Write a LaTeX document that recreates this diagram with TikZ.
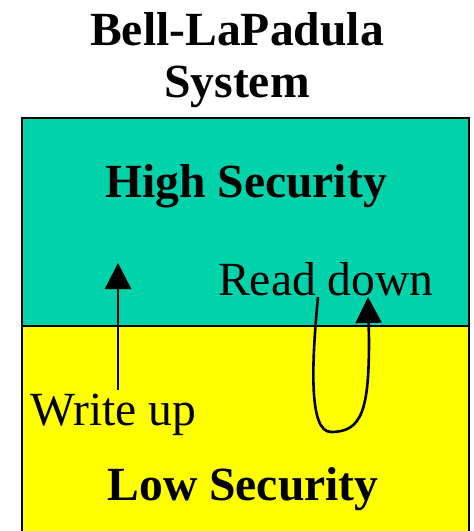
\documentclass[tikz,border=0pt]{standalone}
\usepackage{fontspec}
\setmainfont{Liberation Serif}
\usetikzlibrary{arrows.meta}
\definecolor{highcol}{RGB}{0,210,170}
\definecolor{lowcol}{RGB}{255,255,0}
\tikzset{
  lbl/.style={inner sep=0pt, font=\fontsize{47.6}{52}\selectfont},
  blbl/.style={lbl, font=\fontsize{47.6}{52}\selectfont\bfseries},
  flow/.style={line width=2.6pt, -{Triangle[width=26pt,length=26pt]}},
  zone/.style={draw=black, line width=2.6pt}
}
\begin{document}
\begin{tikzpicture}[x=1pt,y=-1pt]
\useasboundingbox (0,0) rectangle (474,531);
\clip (0,0) rectangle (474,531);
\fill[white] (0,0) rectangle (474,531);
% zones
\draw[zone, fill=highcol] (22,118) rectangle (469,326);
\draw[zone, fill=lowcol] (22,326) rectangle (469,560);
% title
\node[blbl, anchor=base, align=center] (title) at (237,97) {Bell-LaPadula\\System};
% labels
\node[blbl, anchor=base] (high) at (246,197) {High Security};
\node[blbl, anchor=base] (low) at (243,500) {Low Security};
\node[lbl, anchor=base west] (read) at (218,295) {Read down};
\node[lbl, anchor=base west] (write) at (30,425) {Write up};
% write up arrow
\coordinate (wstart) at (118,390);
\coordinate (wend) at (118,263);
\draw[flow] (wstart) -- (wend);
% read down loop
\coordinate (rstart) at (318,297);
\coordinate (rbottom) at (331,432);
\coordinate (rend) at (368,297);
\draw[line width=2.6pt] (rstart) .. controls (312,360) and (308,432) .. (rbottom);
\draw[flow] (rbottom) .. controls (362,432) and (369,410) .. (369,340) -- (rend);
\end{tikzpicture}
\end{document}
